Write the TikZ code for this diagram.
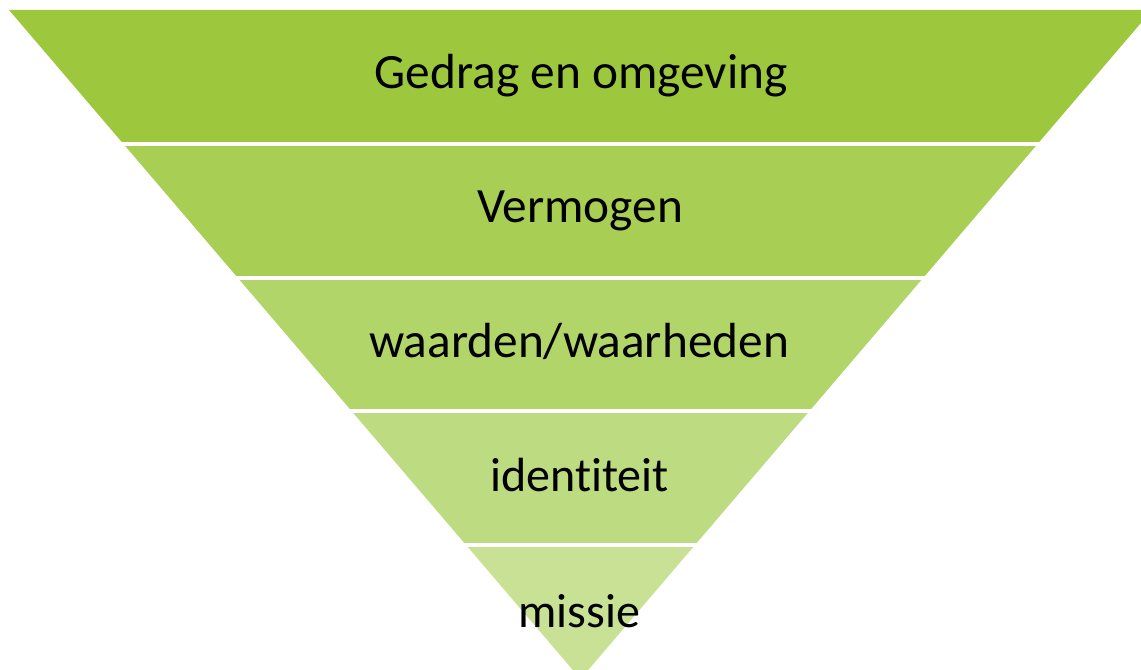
\documentclass[tikz,border=0pt]{standalone}
\usepackage{fontspec}
\setmainfont[Ligatures={NoCommon,NoRare}]{Carlito}
\usetikzlibrary{calc}
\definecolor{bandA}{HTML}{9DC83E}
\definecolor{bandB}{HTML}{A8CE54}
\definecolor{bandC}{HTML}{B2D56A}
\definecolor{bandD}{HTML}{BDDB80}
\definecolor{bandE}{HTML}{C8E195}
\begin{document}
\begin{tikzpicture}[x=0.75pt,y=-0.75pt,
  lbl/.style={font=\fontsize{37}{44}\selectfont, text=black, inner sep=0pt, anchor=base},
  lblb/.style={lbl, font=\fontsize{36}{43}\selectfont},
  gap/.style={white, line width=3pt, shorten <=-6pt, shorten >=-6pt}]
\useasboundingbox (0,0) rectangle (1141,670);
\clip (0,0) rectangle (1141,670);
\coordinate (L) at (9,10);
\coordinate (R) at (1152,10);
\coordinate (A) at (580.5,679);
\foreach \i/\c in {0/bandA,1/bandB,2/bandC,3/bandD,4/bandE}{
  \pgfmathsetmacro\ta{\i/5}
  \pgfmathsetmacro\tb{(\i+1)/5}
  \fill[\c] ($(L)!\ta!(A)$) -- ($(R)!\ta!(A)$) -- ($(R)!\tb!(A)$) -- ($(L)!\tb!(A)$) -- cycle;
}
\foreach \i in {1,...,4}{
  \pgfmathsetmacro\ta{\i/5}
  \draw[gap] ($(L)!\ta!(A)$) -- ($(R)!\ta!(A)$);
}
\node[lbl] (t1) at (581,89) {Gedrag en omgeving};
\node[lbl] (t2) at (580,223) {Vermogen};
\node[lbl] (t3) at (579,357) {waarden/waarheden};
\node[lblb] (t4) at (579.5,491.5) {identiteit};
\node[lblb] (t5) at (579.5,627) {missie};
\end{tikzpicture}
\end{document}
